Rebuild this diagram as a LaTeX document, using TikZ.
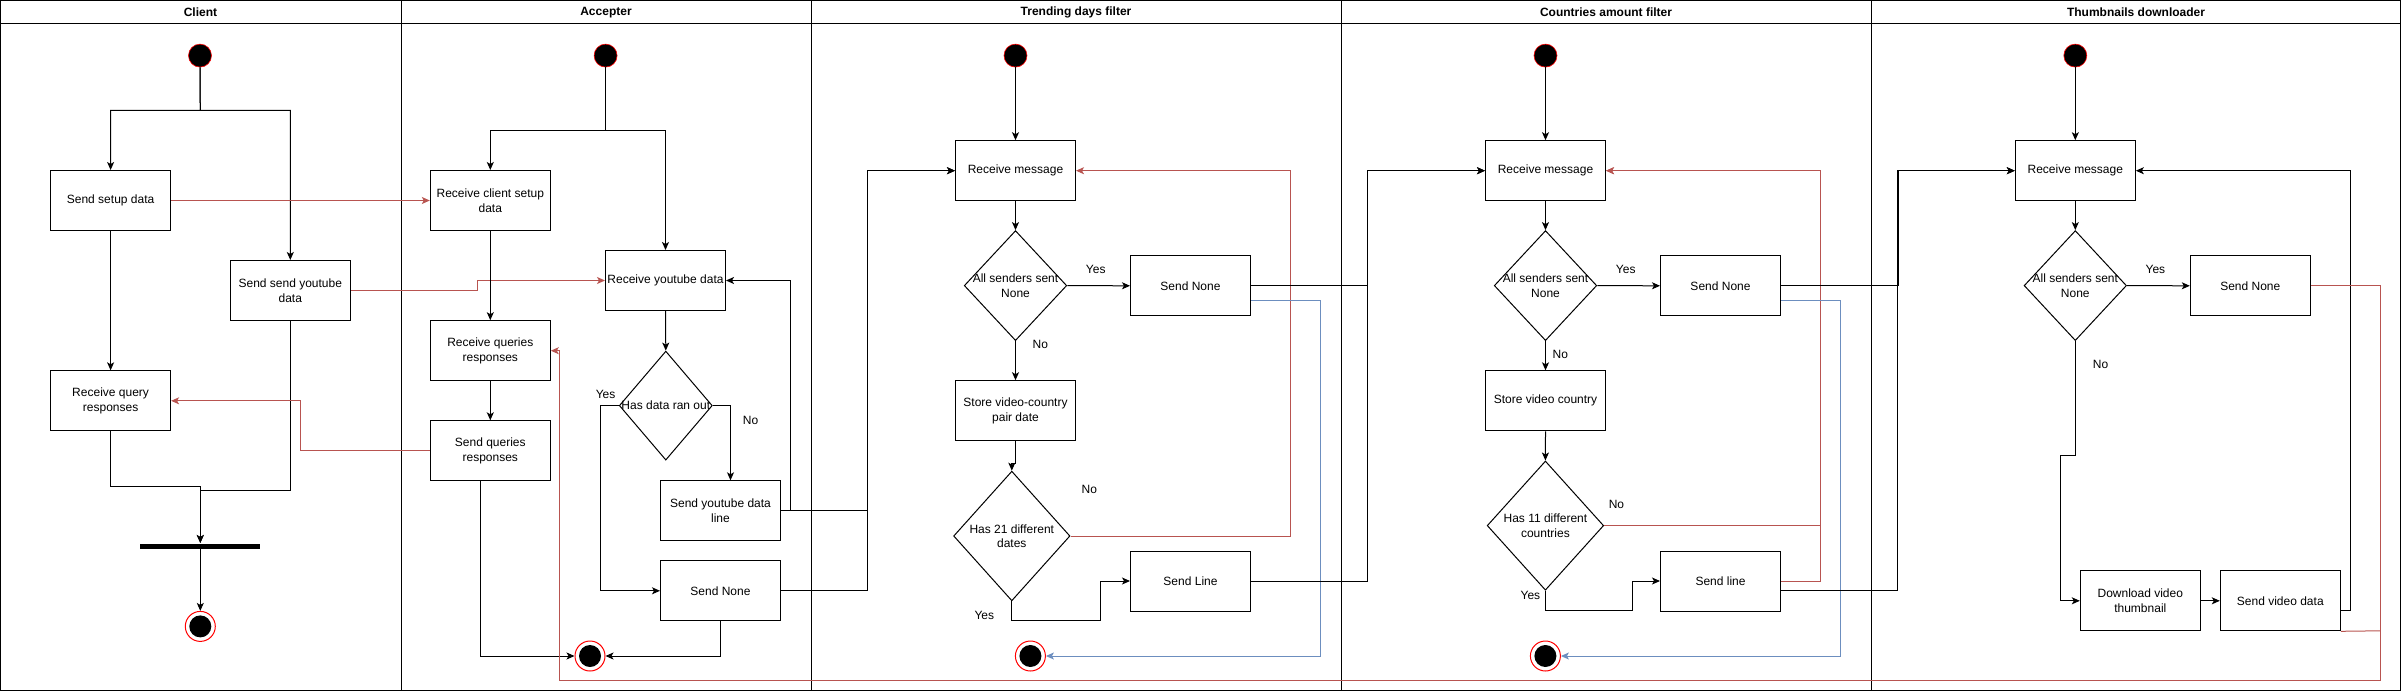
\documentclass[tikz,border=0pt]{standalone}
\usepackage{fontspec}
\setmainfont{Liberation Sans}
\usetikzlibrary{shapes.geometric,arrows.meta}
\newcommand{\dfont}{\fontsize{12}{14.5}\selectfont}
\definecolor{rd}{HTML}{B85450}
\definecolor{bl}{HTML}{6C8EBF}
\tikzset{
  box/.style={draw, rectangle, minimum width=120pt, minimum height=60pt, inner sep=0pt, align=center},
  dia/.style={draw, diamond, inner sep=0pt},
  startst/.style={circle, fill=black, draw=red, line width=0.6pt, minimum size=23pt, inner sep=0pt},
  endst/.style={circle, draw=red, line width=1pt, minimum size=30pt, inner sep=0pt,
    path picture={\fill[black] (path picture bounding box.center) circle[radius=11pt];}},
  arr/.style={-{Stealth[length=8pt,width=7pt,inset=2pt]}},
  rline/.style={draw=rd},
  bline/.style={draw=bl},
  lbl/.style={inner sep=0pt},
  lanetitle/.style={font=\dfont\bfseries},
  barst/.style={rectangle, fill=black, minimum width=120pt, minimum height=5pt, inner sep=0pt},
}
\begin{document}
\begin{tikzpicture}[x=1pt,y=-1pt,line width=1pt,font=\dfont]
\useasboundingbox (0,0) rectangle (2401,691);
% lanes
\draw (0.5,0.5) rectangle (2400.5,690.5);
\draw (0.5,23) -- (2400.5,23);
\foreach \x in {401,811,1341,1871} \draw (\x,0.5) -- (\x,690.5);
\node[lanetitle] (tclient) at (200.5,12.6) {Client};
\node[lanetitle] (taccept) at (606,12.6) {Accepter};
\node[lanetitle] (ttrend) at (1076,12.6) {Trending days filter};
\node[lanetitle] (tcountry) at (1606,12.6) {Countries amount filter};
\node[lanetitle] (tthumb) at (2136,12.6) {Thumbnails downloader};

% ---------------- Client
\node[startst] (cstart) at (200,55.6) {};
\node[box] (csetup) at (110.6,200.5) {Send setup data};
\node[box] (cyt) at (290.3,290.5) {Send send youtube\\data};
\node[box] (cq) at (110.6,400.8) {Receive query\\responses};
\node[barst] (cbar) at (200.3,546) {};
\node[endst] (cend) at (200.3,626.4) {};

% ---------------- Accepter
\node[startst] (astart) at (605.6,55.6) {};
\node[box] (areq) at (490.3,200.5) {Receive client setup\\data};
\node[box] (ayt) at (665.5,280.5) {Receive youtube data};
\node[box] (aqr) at (490.3,350.7) {Receive queries\\responses};
\node[box] (asq) at (490.3,450.8) {Send queries\\responses};
\node[dia, minimum width=93pt, minimum height=109pt, label={[lbl]center:Has data ran out}] (adia) at (665.8,405.6) {};
\node[box] (aline) at (720.5,510.8) {Send youtube data\\line};
\node[box] (anone) at (720.5,590.8) {Send None};
\node[endst] (aend) at (590,656) {};

% ---------------- Trending
\node[startst] (tstart) at (1015.5,55.6) {};
\node[box] (trm) at (1015.5,170.7) {Receive message};
\node[dia, minimum width=102.5pt, minimum height=110pt, label={[lbl,align=center]center:All senders sent\\None}] (tdia1) at (1015.5,285.6) {};
\node[box] (tnone) at (1190.5,285.8) {Send None};
\node[box] (tstore) at (1015.5,410.7) {Store video-country\\pair date};
\node[dia, minimum width=116.4pt, minimum height=129.7pt, label={[lbl,align=center]center:Has 21 different\\dates}] (tdia2) at (1011.8,536) {};
\node[box] (tline) at (1190.5,581) {Send Line};
\node[endst] (tend) at (1030.4,656) {};

% ---------------- Countries
\node[startst] (kstart) at (1545.5,55.6) {};
\node[box] (krm) at (1545.5,170.7) {Receive message};
\node[dia, minimum width=102.5pt, minimum height=110pt, label={[lbl,align=center]center:All senders sent\\None}] (kdia1) at (1545.5,285.6) {};
\node[box] (knone) at (1720.5,285.8) {Send None};
\node[box] (kstore) at (1545.5,400.8) {Store video country};
\node[dia, minimum width=116.5pt, minimum height=129.2pt, label={[lbl,align=center]center:Has 11 different\\countries}] (kdia2) at (1545.4,525.6) {};
\node[box] (kline) at (1720.5,581) {Send line};
\node[endst] (kend) at (1545.4,656) {};

% ---------------- Thumbnails
\node[startst] (hstart) at (2075.3,55.6) {};
\node[box] (hrm) at (2075.3,170.7) {Receive message};
\node[dia, minimum width=102.4pt, minimum height=110pt, label={[lbl,align=center]center:All senders sent\\None}] (hdia) at (2075.3,285.6) {};
\node[box] (hnone) at (2250.3,285.8) {Send None};
\node[box] (hdl) at (2140.3,600.8) {Download video\\thumbnail};
\node[box] (hsend) at (2280.3,600.8) {Send video data};

% ---------------- Client edges
\draw[arr] (cstart.south) -- (200.3,110.3) -| (csetup.north);
\draw[arr] (cstart.south) -- (200.3,110.3) -| (cyt.north);
\draw[arr] (csetup.south) -- (cq.north);
\draw[arr] (cq.south) -- (110.6,486) -| (cbar.north);
\draw[arr] (cyt.south) -- (290.3,490.5) -| (cbar.north);
\draw[arr] (cbar.south) -- (cend.north);
\draw[arr,rline] (csetup.east) -- (areq.west);
\draw[arr,rline] (cyt.east) -- (477.5,290.5) |- (ayt.west);
\draw[arr,rline] (asq.west) -- (300.7,450.8) |- (cq.east);

% ---------------- Accepter edges
\draw[arr] (astart.south) -- (605.6,130.6) -| (areq.north);
\draw[arr] (astart.south) -- (605.6,130.6) -| (ayt.north);
\draw[arr] (areq.south) -- (aqr.north);
\draw[arr] (aqr.south) -- (asq.north);
\draw[arr] (ayt.south) -- (adia.north);
\draw[arr] (adia.west) -- (600.4,405.6) |- (anone.west);
\node[lbl] (ayes) at (605.6,394.8) {Yes};
\draw[arr] (adia.east) -| ([xshift=10pt]aline.north);
\node[lbl] (ano) at (750.5,420) {No};
\draw[arr] (aline.east) -- (790.8,510.8) |- (ayt.east);
\draw[arr] (aline.east) -- (867.9,510.8) |- (trm.west);
\draw[arr] (anone.east) -- (867.9,590.8) |- (trm.west);
\draw[arr] ([xshift=-10pt]asq.south) |- (aend.west);
\draw[arr] (anone.south) |- (aend.east);

% ---------------- Trending edges
\draw[arr] (tstart.south) -- (trm.north);
\draw[arr] (trm.south) -- (tdia1.north);
\draw[arr] (tdia1.east) -- (tnone.west);
\node[lbl] (tyes1) at (1095.7,269.5) {Yes};
\draw[arr] (tdia1.south) -- (tstore.north);
\node[lbl] (tno1) at (1040.4,344.5) {No};
\draw[arr] (tstore.south) -- (1015.5,463) -- (1011.8,463) -- (tdia2.north);
\draw[arr,rline] (tdia2.east) -- (1290.4,536) |- (trm.east);
\node[lbl] (tno2) at (1089.3,489.6) {No};
\draw[arr] (tdia2.south) -- (1011.8,620.6) -- (1100,620.6) |- (tline.west);
\node[lbl] (tyes2) at (984.3,615) {Yes};
\draw[arr,bline] ([yshift=-15pt]tnone.east) -- (1320.7,300.8) |- (tend.east);
\draw[arr] (tnone.east) -- (1367.9,285.8) |- (krm.west);
\draw[arr] (tline.east) -- (1367.9,581) |- (krm.west);

% ---------------- Countries edges
\draw[arr] (kstart.south) -- (krm.north);
\draw[arr] (krm.south) -- (kdia1.north);
\draw[arr] (kdia1.east) -- (knone.west);
\node[lbl] (kyes1) at (1625.7,269.5) {Yes};
\draw[arr] (kdia1.south) -- (kstore.north);
\node[lbl] (kno1) at (1560.4,354.7) {No};
\draw[arr] (kstore.south) -- (kdia2.north);
\draw[arr,rline] (kdia2.east) -- (1820.4,525.6) |- (krm.east);
\node[lbl] (kno2) at (1616.4,504.6) {No};
\draw[arr,rline] (kline.east) -- (1820.4,581) |- (krm.east);
\draw[arr] (kdia2.south) -- (1545.4,610.5) -- (1632.1,610.5) |- (kline.west);
\node[lbl] (kyes2) at (1530.4,595) {Yes};
\draw[arr,bline] ([yshift=-15pt]knone.east) -- (1840.7,300.8) |- (kend.east);
\draw[arr] (knone.east) -- (1898,285.8) |- (hrm.west);
\draw[arr] ([yshift=-9.6pt]kline.east) -- (1897.3,590.6) |- (hrm.west);

% ---------------- Thumbnails edges
\draw[arr] (hstart.south) -- (hrm.north);
\draw[arr] (hrm.south) -- (hdia.north);
\draw[arr] (hdia.east) -- (hnone.west);
\node[lbl] (hyes) at (2155.4,269.5) {Yes};
\draw[arr] (hdia.south) -- (2075.3,455.7) -- (2060.5,455.7) |- (hdl.west);
\node[lbl] (hno) at (2100.5,364.4) {No};
\draw[arr] (hdl.east) -- (hsend.west);
\draw[arr] ([yshift=-10pt]hsend.east) -- (2350.3,610.8) |- (hrm.east);
\draw[arr,rline] (hnone.east) -- (2380.4,285.8) -- (2380.4,680.6) -- (559.6,680.6) |- (aqr.east);
\draw[rline] (hsend.south east) -- (2380.4,630.8);
\end{tikzpicture}
\end{document}
